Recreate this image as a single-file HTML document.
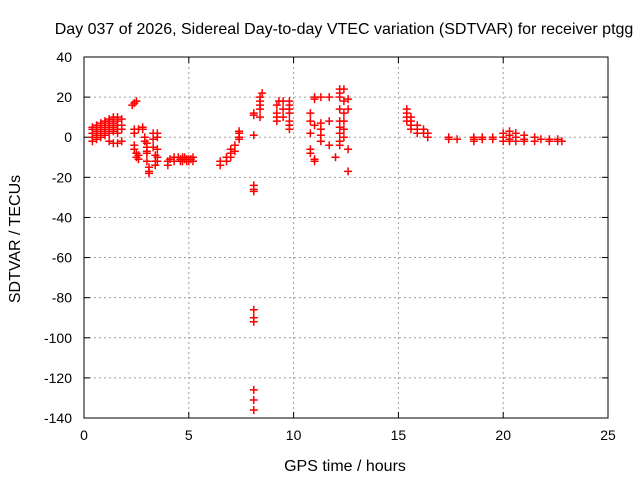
<!DOCTYPE html>
<html><head><meta charset="utf-8"><style>
body{margin:0;background:#fff;}
svg{display:block;font-family:"Liberation Sans",sans-serif;}
</style></head><body>
<svg id="chart" width="640" height="480">
<rect x="0" y="0" width="640" height="480" fill="#fff"/>
<text x="344" y="34" text-anchor="middle" font-size="16">Day 037 of 2026, Sidereal Day-to-day VTEC variation (SDTVAR) for receiver ptgg</text>
<text x="345" y="471" text-anchor="middle" font-size="16">GPS time / hours</text>
<text transform="translate(20,239) rotate(-90)" text-anchor="middle" font-size="16">SDTVAR / TECUs</text>
<g id="grid"></g><g id="ticks"></g><g id="pts"></g>
<rect x="84" y="57" width="524" height="361" fill="none" stroke="#000" stroke-width="1"/>
</svg>
<script>
const xTicks=[0,5,10,15,20,25];
const yTicks=[40,20,0,-20,-40,-60,-80,-100,-120,-140];
const hours=[
0.4,0.4,0.4,0.4,0.4,0.6,0.6,0.6,0.6,0.6,0.8,0.8,0.8,0.8,0.8,1.0,1.0,1.0,1.0,1.0,
1.2,1.2,1.2,1.2,1.2,1.2,1.4,1.4,1.4,1.4,1.4,1.4,1.6,1.6,1.6,1.6,1.6,1.6,1.8,1.8,1.8,1.8,
2.3,2.4,2.5,2.4,2.4,2.4,2.4,2.5,2.5,2.6,2.6,2.6,
2.8,2.8,2.9,2.9,3.0,3.0,3.0,3.1,3.1,3.1,3.0,3.0,3.3,3.3,3.3,3.4,3.4,3.4,3.5,3.5,3.5,3.5,3.5,
4.0,4.0,4.1,4.3,4.3,4.5,4.6,4.7,4.8,4.9,5.0,5.1,5.2,4.6,4.8,5.0,5.2,4.7,4.9,
6.5,6.5,6.8,6.8,7.0,7.0,7.0,7.2,7.2,7.4,7.4,7.4,7.4,
8.1,8.1,8.1,8.1,8.1,8.1,8.1,8.1,8.1,8.1,8.1,8.1,
8.4,8.4,8.4,8.4,8.5,8.4,9.2,9.2,9.2,9.2,9.3,9.5,9.5,9.5,9.8,9.8,9.8,9.8,9.8,9.8,9.8,
10.8,10.8,10.8,10.8,10.8,11.0,11.0,11.0,11.0,11.0,11.3,11.3,11.3,11.3,11.3,11.7,11.7,11.7,12.0,
12.2,12.2,12.2,12.2,12.2,12.2,12.2,12.2,12.2,12.4,12.4,12.4,12.4,12.4,12.4,12.6,12.6,12.6,12.6,
15.4,15.4,15.4,15.4,15.6,15.6,15.6,15.6,15.9,15.9,15.9,16.2,16.2,16.4,16.4,
17.4,17.4,17.8,18.6,18.6,18.6,19.0,19.0,19.5,19.5,20.0,20.0,20.0,20.3,20.3,20.3,20.3,20.6,20.6,20.6,
21.0,21.0,21.0,21.5,21.5,21.8,22.2,22.2,22.6,22.6,22.8];
const values=[
-2,0,2,4,5,-1,1,3,5,6,0,2,4,6,7,1,3,5,7,8,
-2,2,4,6,8,9,-3,3,5,7,9,10,-3,2,4,6,8,10,-2,4,6,9,
16,17,18,4,2,-4,-6,-8,-10,-9,-11,4,
5,4,0,-2,-5,-8,-12,-15,-17,-18,-3,-7,2,-1,-5,-9,-12,-14,-6,-10,-12,2,0,
-12,-14,-11,-12,-10,-10,-11,-12,-10,-11,-12,-11,-10,-12,-11,-11,-12,-10,-12,
-12,-14,-10,-12,-6,-8,-10,-4,-7,0,2,3,-1,
12,11,1,-24,-26,-27,-86,-90,-92,-126,-131,-136,
14,16,18,20,22,10,10,8,12,16,18,10,14,18,4,6,8,12,14,16,18,
12,8,2,-6,-8,19,20,6,-11,-12,20,7,4,1,-2,20,8,-4,-10,
22,24,20,14,8,5,2,-2,-4,24,18,12,8,4,0,-6,19,14,-17,
14,12,10,8,10,8,6,4,6,4,2,4,2,2,0,
-1,0,-1,-1,-2,0,-1,0,0,-1,2,0,-2,3,1,-1,-2,2,0,-2,
1,-1,-2,0,-2,-1,-1,-2,-1,-2,-2];
const X0=84,X1=608,Y0=418,Y1=57;
const xs=v=>X0+(v-0)/(25-0)*(X1-X0);
const ys=v=>Y0-(v+140)/(180)*(Y0-Y1);
const NS="http://www.w3.org/2000/svg";
const grid=document.getElementById('grid'),ticks=document.getElementById('ticks'),pts=document.getElementById('pts');
function mk(tag,attrs,parent){const e=document.createElementNS(NS,tag);for(const k in attrs)e.setAttribute(k,attrs[k]);parent.appendChild(e);return e;}
xTicks.forEach(t=>{const x=xs(t);
 if(t>0&&t<25){const g=mk('line',{x1:x,x2:x,y1:Y1,y2:Y0,stroke:'#a0a0a0','stroke-dasharray':'2,3'},grid);
 
 }
 mk('line',{x1:x,x2:x,y1:Y0,y2:Y0-6,stroke:'#000'},ticks);mk('line',{x1:x,x2:x,y1:Y1,y2:Y1+6,stroke:'#000'},ticks);
 const l=mk('text',{x:x,y:Y0+22,'text-anchor':'middle','font-size':'14'},ticks);l.textContent=t;
 
 });
yTicks.forEach(t=>{const y=ys(t);
 if(t>-140&&t<40){const g=mk('line',{x1:X0,x2:X1,y1:y,y2:y,stroke:'#a0a0a0','stroke-dasharray':'2,3'},grid);
 
 }
 mk('line',{x1:X0,x2:X0+6,y1:y,y2:y,stroke:'#000'},ticks);mk('line',{x1:X1,x2:X1-6,y1:y,y2:y,stroke:'#000'},ticks);
 const l=mk('text',{x:X0-12,y:y+5,'text-anchor':'end','font-size':'14'},ticks);l.textContent=t;
 
 });
hours.forEach((h,i)=>{const x=xs(h),y=ys(values[i]);
 const p=mk('path',{d:`M${x-4},${y}H${x+4}M${x},${y-4}V${y+4}`,stroke:'#ff0000','stroke-width':'1.5',fill:'none'},pts);
 
 });
</script>
</body></html>
